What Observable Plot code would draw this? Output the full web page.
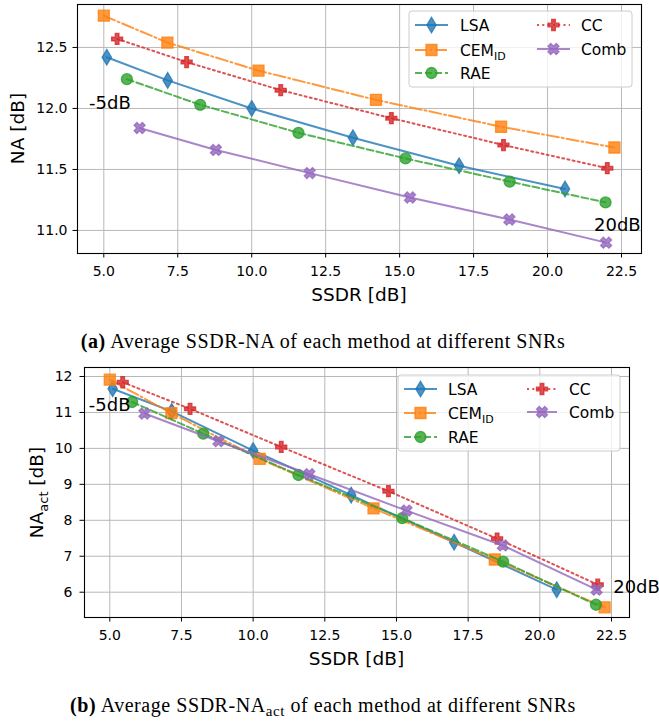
<!DOCTYPE html>
<html>
<head>
<meta charset="utf-8">
<script src="https://cdn.jsdelivr.net/npm/d3@7"></script>
<script src="https://cdn.jsdelivr.net/npm/@observablehq/plot@0.6"></script>
<style>
  html, body { margin: 0; padding: 0; background: #fff; }
  #wrap { position: relative; width: 659px; height: 721px; overflow: hidden; background: #fff; }
  #wrap svg { position: absolute; left: 0; }
  .cap { position: absolute; left: 0; width: 646px; text-align: center; font-family: "Liberation Serif", "Times New Roman", serif; font-size: 20px; letter-spacing: 0.55px; line-height: 20px; color: #000; white-space: nowrap; }
</style>
</head>
<body>
<div id="wrap"></div>
<script>
// ---------------- data ----------------
const methods = ["LSA", "CEM_ID", "RAE", "CC", "Comb"];

const ssdr_LSA  = [5.10, 7.16, 10.00, 13.42, 17.01, 20.59];
const na_LSA    = [12.42, 12.23, 12.00, 11.76, 11.53, 11.34];
const naAct_LSA = [11.66, 11.03, 9.94, 8.70, 7.39, 6.07];

const ssdr_CEM  = [5.00, 7.15, 10.23, 14.20, 18.43, 22.26];
const na_CEM    = [12.76, 12.54, 12.31, 12.07, 11.85, 11.68];
const naAct_CEM = [11.91, 10.98, 9.71, 8.33, 6.91, 5.58];

const ssdr_RAE  = [5.78, 8.26, 11.58, 15.20, 18.72, 21.96];
const na_RAE    = [12.24, 12.03, 11.80, 11.59, 11.40, 11.23];
const naAct_RAE = [11.29, 10.41, 9.26, 8.06, 6.85, 5.65];

const ssdr_CC   = [5.45, 7.80, 10.98, 14.72, 18.51, 22.02];
const na_CC     = [12.57, 12.38, 12.15, 11.92, 11.70, 11.51];
const naAct_CC  = [11.84, 11.10, 10.04, 8.81, 7.49, 6.21];

const ssdr_Comb  = [6.21, 8.79, 11.96, 15.35, 18.71, 21.98];
const na_Comb    = [11.84, 11.66, 11.47, 11.27, 11.09, 10.90];
const naAct_Comb = [10.97, 10.20, 9.28, 8.27, 7.30, 6.07];

const xTicks  = [5.0, 7.5, 10.0, 12.5, 15.0, 17.5, 20.0, 22.5];
const yTicksA = [11.0, 11.5, 12.0, 12.5];
const yTicksB = [6, 7, 8, 9, 10, 11, 12];

const annA = [{x: 4.50, y: 12.04, t: "-5dB"}, {x: 21.57, y: 11.045, t: "20dB"}];
const annB = [{x: 4.27, y: 11.19, t: "-5dB"}, {x: 22.56, y: 6.13, t: "20dB"}];

// ---------------- styles ----------------
const ms = 11;
const symThinDiamond = {draw(c) { const h = 0.707 * ms, w = 0.6 * h; c.moveTo(0, -h); c.lineTo(w, 0); c.lineTo(0, h); c.lineTo(-w, 0); c.closePath(); }};
const symSquare = {draw(c) { const h = ms / 2; c.moveTo(-h, -h); c.lineTo(h, -h); c.lineTo(h, h); c.lineTo(-h, h); c.closePath(); }};
const symCircle = {draw(c) { const r = ms / 2; c.moveTo(r, 0); c.arc(0, 0, r, 0, 2 * Math.PI); c.closePath(); }};
const plusPts = [[-1,-3],[-1,-1],[-3,-1],[-3,1],[-1,1],[-1,3],[1,3],[1,1],[3,1],[3,-1],[1,-1],[1,-3]];
const symPlus = {draw(c) { plusPts.forEach(([a, b], i) => { const x = a * ms / 6, y = b * ms / 6; i ? c.lineTo(x, y) : c.moveTo(x, y); }); c.closePath(); }};
const xPts = [[-1,-2],[0,-1],[1,-2],[2,-1],[1,0],[2,1],[1,2],[0,1],[-1,2],[-2,1],[-1,0],[-2,-1]];
const symX = {draw(c) { xPts.forEach(([a, b], i) => { const x = a * ms / 4, y = b * ms / 4; i ? c.lineTo(x, y) : c.moveTo(x, y); }); c.closePath(); }};

const series = [
  {name: "LSA",    ssdr: ssdr_LSA,  na: na_LSA,  act: naAct_LSA,  color: "#1f77b4", dash: null,         sym: symThinDiamond},
  {name: "CEM_ID", ssdr: ssdr_CEM,  na: na_CEM,  act: naAct_CEM,  color: "#ff7f0e", dash: "12,3,2,3",   sym: symSquare},
  {name: "RAE",    ssdr: ssdr_RAE,  na: na_RAE,  act: naAct_RAE,  color: "#2ca02c", dash: "7,3",        sym: symCircle},
  {name: "CC",     ssdr: ssdr_CC,   na: na_CC,   act: naAct_CC,   color: "#d62728", dash: "2,3.3",      sym: symPlus},
  {name: "Comb",   ssdr: ssdr_Comb, na: na_Comb, act: naAct_Comb, color: "#9467bd", dash: null,         sym: symX}
];

function rows(s, key) { return s.ssdr.map((x, i) => ({x, y: s[key][i]})); }

function seriesMarks(key) {
  const marks = [];
  for (const s of series) {
    const data = rows(s, key);
    marks.push(Plot.line(data, {x: "x", y: "y", stroke: s.color, strokeWidth: 2, strokeOpacity: 0.8, strokeDasharray: s.dash || undefined}));
    marks.push(Plot.dot(data, {x: "x", y: "y", symbol: s.sym, fill: s.color, stroke: s.color, strokeWidth: 1.3, fillOpacity: 0.8, strokeOpacity: 0.8}));
  }
  return marks;
}

function commonMarks(key, yTicks, yFmt, ann, padY) {
  return [
    Plot.gridX(xTicks, {stroke: "#b8b8b8", strokeOpacity: 1, strokeWidth: 1}),
    Plot.gridY(yTicks, {stroke: "#b8b8b8", strokeOpacity: 1, strokeWidth: 1}),
    Plot.axisX({ticks: xTicks, tickFormat: d => d.toFixed(1), tickSize: 4.5, tickPadding: 8.5, label: null, stroke: "black", fill: "black"}),
    Plot.axisY({ticks: yTicks, tickFormat: yFmt, tickSize: 4.5, tickPadding: padY, label: null, stroke: "black", fill: "black"}),
    ...seriesMarks(key),
    Plot.frame({stroke: "black", strokeWidth: 1.1}),
    Plot.text(ann, {x: "x", y: "y", text: "t", textAnchor: "start", fontSize: 18, fill: "black"})
  ];
}

const wrap = document.getElementById("wrap");
const baseStyle = {fontFamily: "DejaVu Sans", fontSize: "14px", color: "black", background: "transparent", overflow: "visible"};

// ---------- chart (a) ----------
const svgA = Plot.plot({
  width: 659, height: 310,
  marginLeft: 77, marginRight: 18, marginTop: 4, marginBottom: 57,
  x: {domain: [4.111, 23.176]},
  y: {domain: [10.811, 12.852]},
  style: baseStyle,
  marks: commonMarks("na", yTicksA, d => d.toFixed(1), annA, 5.5)
});
svgA.style.top = "0px";
wrap.appendChild(svgA);

// ---------- chart (b) ----------
const svgB = Plot.plot({
  width: 659, height: 310,
  marginLeft: 84, marginRight: 30, marginTop: 7, marginBottom: 53,
  x: {domain: [4.118, 23.128]},
  y: {domain: [5.296, 12.25]},
  style: baseStyle,
  marks: commonMarks("act", yTicksB, d => String(d), annB, 7.5)
});
svgB.style.top = "360px";
wrap.appendChild(svgB);

// ---------- axis labels ----------
function addLabels(svg, yx, yy, yParts, xx, xy) {
  const g = d3.select(svg).append("g").attr("font-family", "DejaVu Sans").attr("fill", "black");
  const t = g.append("text").attr("transform", `translate(${yx},${yy}) rotate(-90)`)
    .attr("text-anchor", "middle").attr("dy", "0.36em").attr("font-size", 18.5);
  for (const p of yParts) {
    const ts = t.append("tspan").text(p.t);
    if (p.sub) ts.attr("font-size", 13).attr("dy", 5); else if (p.after) ts.attr("dy", -5);
  }
  g.append("text").attr("x", xx).attr("y", xy).attr("text-anchor", "middle").attr("font-size", 18.5).text("SSDR [dB]");
}
addLabels(svgA, 17, 128.5, [{t: "NA [dB]"}], 359, 301);
addLabels(svgB, 36, 132.5, [{t: "NA"}, {t: "act", sub: true}, {t: " [dB]", after: true}], 356.5, 305);

// ---------- legends ----------
function addLegend(svg, bx, by, bw, bh, rowsY, col1, col2) {
  const g = d3.select(svg).append("g").attr("text-anchor", "start");
  g.append("rect").attr("x", bx).attr("y", by).attr("width", bw).attr("height", bh).attr("rx", 3)
    .attr("fill", "white").attr("fill-opacity", 0.8).attr("stroke", "#cccccc").attr("stroke-width", 1);
  const place = [
    [col1, rowsY[0]], [col1, rowsY[1]], [col1, rowsY[2]], [col2, rowsY[0]], [col2, rowsY[1] - 1]
  ];
  series.forEach((s, i) => {
    const [c, y] = place[i];
    g.append("line").attr("x1", c.x1).attr("x2", c.x2).attr("y1", y).attr("y2", y)
      .attr("stroke", s.color).attr("stroke-width", 2).attr("stroke-opacity", 0.8)
      .attr("stroke-dasharray", s.dash || null);
    g.append("path").attr("d", d3.symbol(s.sym)()).attr("transform", `translate(${(c.x1 + c.x2) / 2},${y})`)
      .attr("fill", s.color).attr("stroke", s.color).attr("stroke-width", 1.3).attr("fill-opacity", 0.8).attr("stroke-opacity", 0.8);
    const t = g.append("text").attr("x", c.tx).attr("y", y).attr("dy", "0.36em").attr("text-anchor", "start")
      .attr("font-family", "DejaVu Sans").attr("font-size", 15.5).attr("fill", "black");
    if (s.name === "CEM_ID") {
      t.append("tspan").text("CEM");
      t.append("tspan").text("ID").attr("font-size", 11).attr("dy", 4);
    } else t.text(s.name);
  });
}
addLegend(svgA, 409, 11, 223, 76, [25, 50, 73], {x1: 415, x2: 448, tx: 460}, {x1: 537, x2: 570, tx: 581});
addLegend(svgB, 398, 15, 222, 76, [29, 53, 77], {x1: 404, x2: 437, tx: 448}, {x1: 527, x2: 557, tx: 569});

// ---------- captions ----------
const capA = document.createElement("div");
capA.className = "cap"; capA.style.top = "331px";
capA.innerHTML = '<b>(a)</b> Average SSDR-NA of each method at different SNRs';
wrap.appendChild(capA);
const capB = document.createElement("div");
capB.className = "cap"; capB.style.top = "695px";
capB.innerHTML = '<b>(b)</b> Average SSDR-NA<span style="font-size:15px;position:relative;top:4px">act</span> of each method at different SNRs';
wrap.appendChild(capB);
</script>
</body>
</html>
